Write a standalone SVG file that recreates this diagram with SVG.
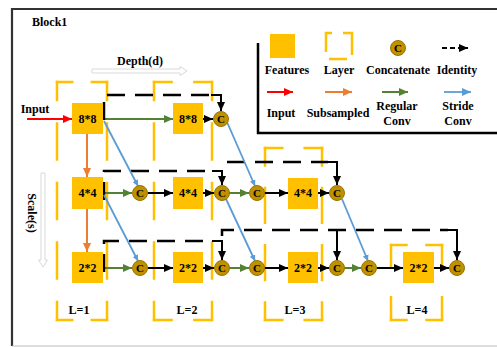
<svg xmlns="http://www.w3.org/2000/svg" width="497" height="347" viewBox="0 0 497 347">
<style>
text{font-family:"Liberation Serif","Times New Roman",serif;font-weight:bold;fill:#000;font-size:12px}
.c{text-anchor:middle}
.feat{fill:#FFC000}
.cat circle{fill:#BF9000;stroke:#9A7400;stroke-width:1}
.cat text{font-size:11px;text-anchor:middle}
.lay{stroke:#FFC000;stroke-width:2.5;fill:none;stroke-dasharray:34 22;stroke-dashoffset:17;stroke-linecap:square}
.blk{stroke:#000;stroke-width:2;fill:none}
.dash{stroke:#000;stroke-width:2.5;fill:none;stroke-dasharray:18 10}
.red{stroke:#FF0000;stroke-width:2;fill:none}
.org{stroke:#ED7D31;stroke-width:2;fill:none}
.grn{stroke:#548235;stroke-width:2;fill:none}
.blu{stroke:#5B9BD5;stroke-width:1.8;fill:none}
.hollow{fill:#fff;stroke:#d9d9d9;stroke-width:1}
</style>
<defs>
<marker id="ab" markerUnits="userSpaceOnUse" markerWidth="9" markerHeight="8" refX="9" refY="4" orient="auto"><path d="M0,0 L9,4 L0,8 z" fill="#000"/></marker>
<marker id="ar" markerUnits="userSpaceOnUse" markerWidth="9" markerHeight="8" refX="9" refY="4" orient="auto"><path d="M0,0 L9,4 L0,8 z" fill="#FF0000"/></marker>
<marker id="ao" markerUnits="userSpaceOnUse" markerWidth="9" markerHeight="8" refX="9" refY="4" orient="auto"><path d="M0,0 L9,4 L0,8 z" fill="#ED7D31"/></marker>
<marker id="ag" markerUnits="userSpaceOnUse" markerWidth="9" markerHeight="8" refX="9" refY="4" orient="auto"><path d="M0,0 L9,4 L0,8 z" fill="#548235"/></marker>
<marker id="abl" markerUnits="userSpaceOnUse" markerWidth="9" markerHeight="8" refX="9" refY="4" orient="auto"><path d="M0,0 L9,4 L0,8 z" fill="#5B9BD5"/></marker>
<marker id="abls" markerUnits="userSpaceOnUse" markerWidth="6" markerHeight="6" refX="6" refY="3" orient="auto"><path d="M0,0 L6,3 L0,6 z" fill="#5B9BD5"/></marker>
</defs>
<rect width="497" height="347" fill="#fff"/>
<!-- frame -->
<path d="M12,346 V9 H497" fill="none" stroke="#333" stroke-width="2.2"/>
<line x1="12" y1="346" x2="497" y2="346" stroke="#bbb" stroke-width="1"/>
<text x="32" y="26">Block1</text>

<!-- axes -->
<g id="depth-axis">
<path class="hollow" d="M92,69 H180 V66.5 L187,71 L180,75.5 V73 H92 Z"/>
<text class="c" x="140" y="65">Depth(d)</text>
</g>
<g id="scale-axis">
<path class="hollow" d="M41,173 V260 H38.5 L43,267 L47.5,260 H45 V173 Z"/>
<text class="c" transform="translate(28,213) rotate(90)">Scale(s)</text>
</g>

<!-- legend -->
<g id="legend">
<path d="M258,43 V133 H497" fill="none" stroke="#000" stroke-width="2.5"/>
<rect class="feat" x="270" y="34" width="25" height="24"/>
<path d="M326,52 V33 H332 M343,33 H352 V55 M329,59 H347" fill="none" stroke="#FFC000" stroke-width="2.5"/>
<g class="cat"><circle cx="398" cy="48" r="7.5"/><text x="398" y="52">C</text></g>
<line class="dash" x1="442" y1="48" x2="468" y2="48" style="stroke-dasharray:5 3;stroke-width:2" marker-end="url(#ab)"/>
<text class="c" x="287" y="74">Features</text>
<text class="c" x="339" y="74">Layer</text>
<text class="c" x="398" y="74">Concatenate</text>
<text class="c" x="457" y="74">Identity</text>
<line class="red" x1="267" y1="92" x2="293" y2="92" marker-end="url(#ar)"/>
<line class="org" x1="325" y1="92" x2="352" y2="92" marker-end="url(#ao)"/>
<line class="grn" x1="382" y1="92" x2="408" y2="92" marker-end="url(#ag)"/>
<line class="blu" x1="444" y1="92" x2="471" y2="92" marker-end="url(#abl)"/>
<text class="c" x="281" y="117">Input</text>
<text class="c" x="338" y="117">Subsampled</text>
<text class="c" x="397" y="110">Regular</text>
<text class="c" x="397" y="125">Conv</text>
<text class="c" x="458" y="110">Stride</text>
<text class="c" x="458" y="125">Conv</text>
</g>

<!-- layers -->
<g id="layer-L1">
<line class="lay" x1="57" y1="82" x2="107" y2="82" pathLength="56"/>
<line class="lay" x1="57" y1="320" x2="107" y2="320" pathLength="56"/>
<line class="lay" x1="57" y1="82" x2="57" y2="320" pathLength="224"/>
<line class="lay" x1="107" y1="82" x2="107" y2="320" pathLength="224"/>
<text class="c" x="79" y="314">L=1</text>
</g>
<g id="layer-L2">
<line class="lay" x1="154" y1="82" x2="212" y2="82" pathLength="56"/>
<line class="lay" x1="154" y1="320" x2="212" y2="320" pathLength="56"/>
<line class="lay" x1="154" y1="82" x2="154" y2="320" pathLength="224"/>
<line class="lay" x1="212" y1="82" x2="212" y2="320" pathLength="224"/>
<text class="c" x="187" y="314">L=2</text>
</g>
<g id="layer-L3">
<line class="lay" x1="265" y1="148" x2="322" y2="148" pathLength="56"/>
<line class="lay" x1="265" y1="320" x2="322" y2="320" pathLength="56"/>
<line class="lay" x1="265" y1="148" x2="265" y2="320" pathLength="168"/>
<line class="lay" x1="322" y1="148" x2="322" y2="320" pathLength="168"/>
<text class="c" x="295" y="314">L=3</text>
</g>
<g id="layer-L4">
<line class="lay" x1="391" y1="245" x2="442" y2="245" pathLength="56"/>
<line class="lay" x1="391" y1="320" x2="442" y2="320" pathLength="56"/>
<line class="lay" x1="391" y1="245" x2="391" y2="320" pathLength="56"/>
<line class="lay" x1="442" y1="245" x2="442" y2="320" pathLength="56"/>
<text class="c" x="417" y="314">L=4</text>
</g>

<!-- connectors -->
<g id="connectors">
<text class="c" x="35" y="113">Input</text>
<line class="red" x1="27" y1="119" x2="72" y2="119" marker-end="url(#ar)"/>
<line class="org" x1="87" y1="134" x2="87" y2="177" marker-end="url(#ao)"/>
<line class="org" x1="87" y1="209" x2="87" y2="252" marker-end="url(#ao)"/>
<!-- regular conv -->
<line class="grn" x1="104" y1="119" x2="173" y2="119" marker-end="url(#ag)"/>
<line class="grn" x1="104" y1="193" x2="132" y2="193" marker-end="url(#ag)"/>
<line class="grn" x1="104" y1="268" x2="132" y2="268" marker-end="url(#ag)"/>
<line class="grn" x1="229" y1="193" x2="249" y2="193" marker-end="url(#ag)"/>
<line class="grn" x1="229" y1="268" x2="249" y2="268" marker-end="url(#ag)"/>
<line class="grn" x1="344" y1="268" x2="361" y2="268" marker-end="url(#ag)"/>
<!-- black flow -->
<line class="blk" x1="203" y1="119" x2="213" y2="119" marker-end="url(#ab)"/>
<line class="blk" x1="148" y1="193" x2="173" y2="193" marker-end="url(#ab)"/>
<line class="blk" x1="203" y1="193" x2="214" y2="193" marker-end="url(#ab)"/>
<line class="blk" x1="265" y1="193" x2="288" y2="193" marker-end="url(#ab)"/>
<line class="blk" x1="318" y1="193" x2="329" y2="193" marker-end="url(#ab)"/>
<line class="blk" x1="148" y1="268" x2="173" y2="268" marker-end="url(#ab)"/>
<line class="blk" x1="203" y1="268" x2="214" y2="268" marker-end="url(#ab)"/>
<line class="blk" x1="265" y1="268" x2="288" y2="268" marker-end="url(#ab)"/>
<line class="blk" x1="318" y1="268" x2="329" y2="268" marker-end="url(#ab)"/>
<line class="blk" x1="377" y1="268" x2="403" y2="268" marker-end="url(#ab)"/>
<line class="blk" x1="434" y1="268" x2="449" y2="268" marker-end="url(#ab)"/>
<!-- identity -->
<path class="dash" d="M104,120 V95 H211"/>
<path class="blk" d="M211,95 H221 V111" marker-end="url(#ab)"/>
<path class="dash" d="M227,162 H328"/>
<path class="blk" d="M328,162 H337 V185" marker-end="url(#ab)"/>
<path class="dash" d="M104,200 V171 H212"/>
<path class="blk" d="M212,171 H222 V185" marker-end="url(#ab)"/>
<path class="dash" d="M104,272 V241 H212"/>
<path class="blk" d="M212,241 H222 V260" marker-end="url(#ab)"/>
<path class="dash" d="M222,236 V230 H448"/>
<path class="blk" d="M337,230 V260" marker-end="url(#ab)"/>
<path class="blk" d="M448,230 H457 V260" marker-end="url(#ab)"/>
<!-- stride conv -->
<line class="blu" x1="104" y1="121" x2="138" y2="186" marker-end="url(#abls)"/>
<line class="blu" x1="104" y1="195" x2="138" y2="261" marker-end="url(#abls)"/>
<line class="blu" x1="227" y1="122" x2="255" y2="186" marker-end="url(#abls)"/>
<line class="blu" x1="226" y1="199" x2="255" y2="261" marker-end="url(#abls)"/>
<line class="blu" x1="342" y1="199" x2="368" y2="261" marker-end="url(#abls)"/>
</g>

<!-- feature nodes -->
<g id="f8-1"><rect class="feat" x="72" y="103" width="31" height="31"/><text class="c" x="87.5" y="123">8*8</text></g>
<g id="f8-2"><rect class="feat" x="173" y="103" width="30" height="31"/><text class="c" x="188" y="123">8*8</text></g>
<g id="f4-1"><rect class="feat" x="72" y="177" width="31" height="32"/><text class="c" x="87.5" y="197">4*4</text></g>
<g id="f4-2"><rect class="feat" x="173" y="177" width="30" height="32"/><text class="c" x="188" y="197">4*4</text></g>
<g id="f4-3"><rect class="feat" x="288" y="178" width="30" height="31"/><text class="c" x="303" y="197">4*4</text></g>
<g id="f2-1"><rect class="feat" x="72" y="252" width="31" height="31"/><text class="c" x="87.5" y="272">2*2</text></g>
<g id="f2-2"><rect class="feat" x="173" y="252" width="30" height="31"/><text class="c" x="188" y="272">2*2</text></g>
<g id="f2-3"><rect class="feat" x="288" y="252" width="30" height="31"/><text class="c" x="303" y="272">2*2</text></g>
<g id="f2-4"><rect class="feat" x="403" y="252" width="31" height="31"/><text class="c" x="418.5" y="272">2*2</text></g>

<!-- concatenate nodes -->
<g id="c1" class="cat"><circle cx="221" cy="119" r="7.5"/><text x="221" y="123">C</text></g>
<g id="c2" class="cat"><circle cx="140" cy="193" r="7.5"/><text x="140" y="197">C</text></g>
<g id="c3" class="cat"><circle cx="222" cy="193" r="7.5"/><text x="222" y="197">C</text></g>
<g id="c4" class="cat"><circle cx="257" cy="193" r="7.5"/><text x="257" y="197">C</text></g>
<g id="c5" class="cat"><circle cx="337" cy="193" r="7.5"/><text x="337" y="197">C</text></g>
<g id="c6" class="cat"><circle cx="140" cy="268" r="7.5"/><text x="140" y="272">C</text></g>
<g id="c7" class="cat"><circle cx="222" cy="268" r="7.5"/><text x="222" y="272">C</text></g>
<g id="c8" class="cat"><circle cx="257" cy="268" r="7.5"/><text x="257" y="272">C</text></g>
<g id="c9" class="cat"><circle cx="337" cy="268" r="7.5"/><text x="337" y="272">C</text></g>
<g id="c10" class="cat"><circle cx="369" cy="268" r="7.5"/><text x="369" y="272">C</text></g>
<g id="c11" class="cat"><circle cx="457" cy="268" r="7.5"/><text x="457" y="272">C</text></g>
</svg>
